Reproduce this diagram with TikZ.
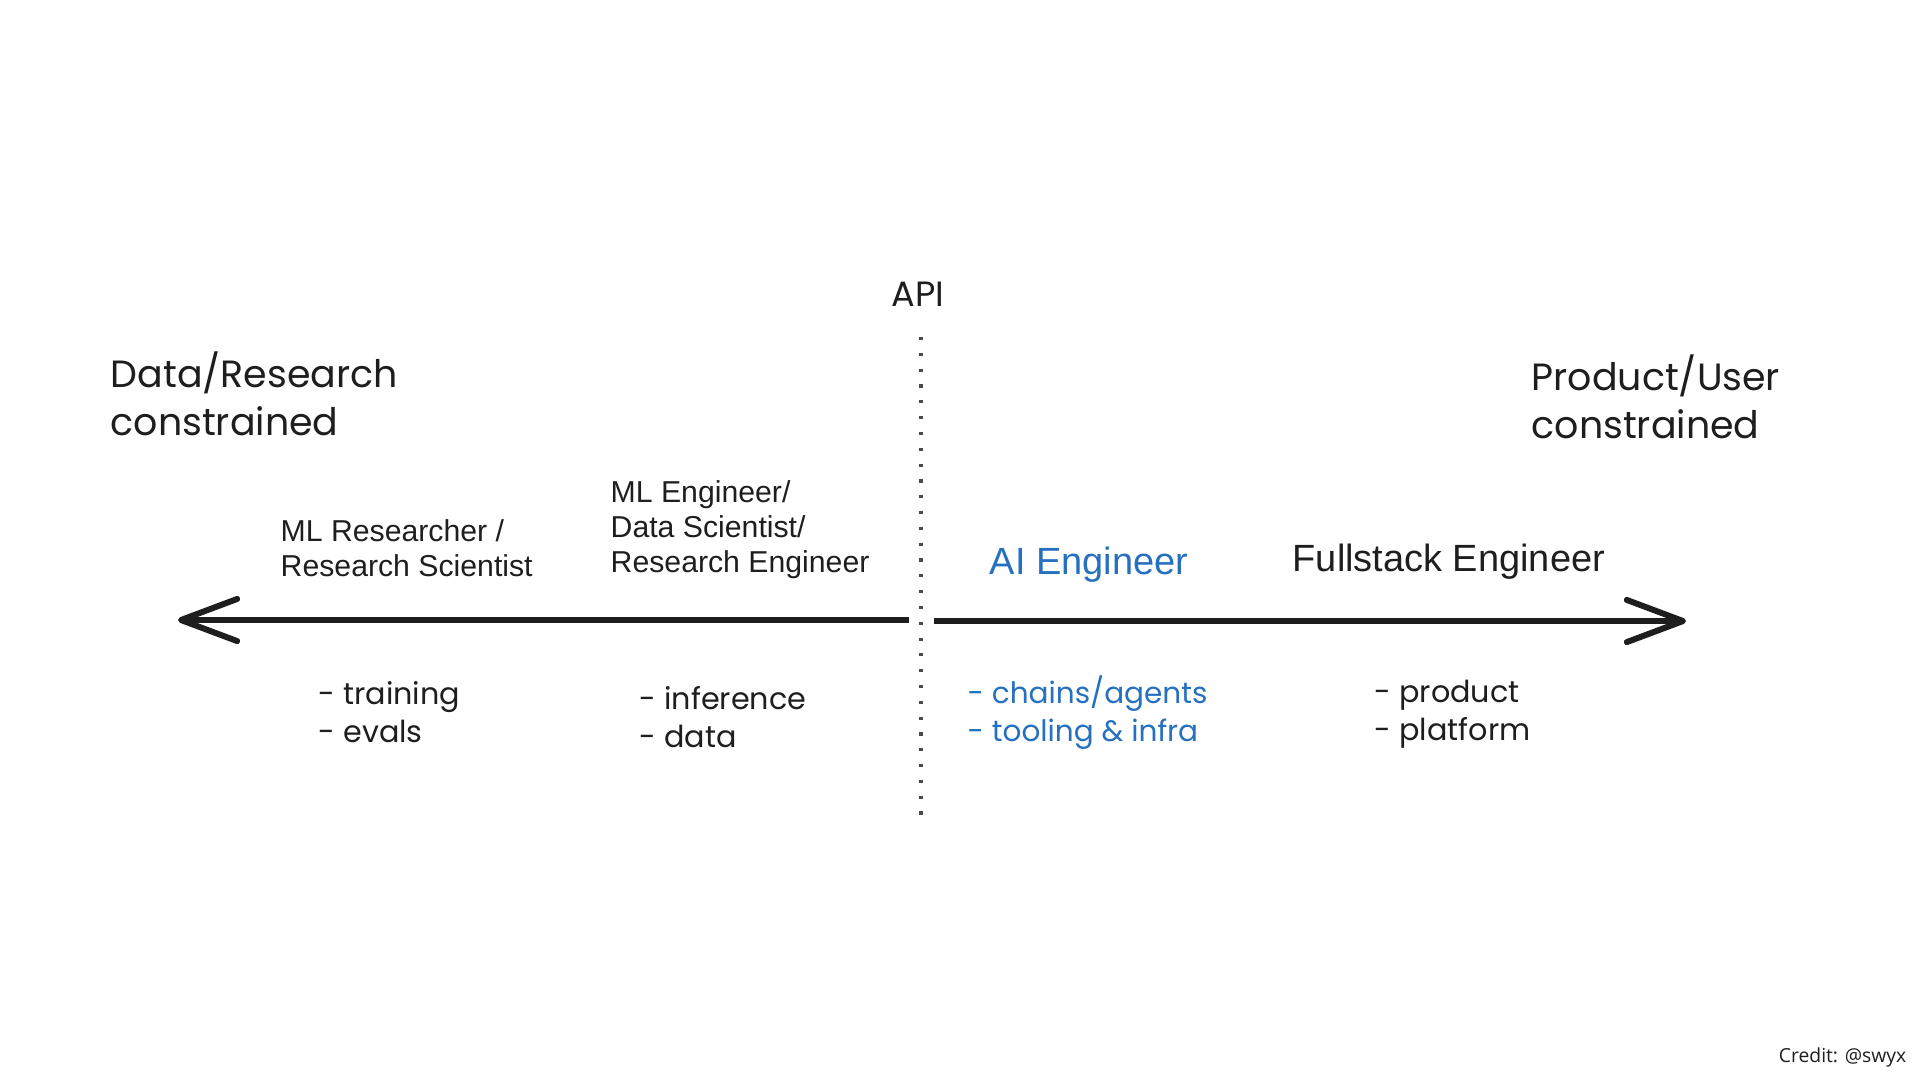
\documentclass[tikz,border=0pt]{standalone}
\usepackage{fontspec}
\setmainfont{Liberation Sans}
\newfontfamily\handfont{Poppins}
\newfontfamily\creditfont{Open Sans}
\usepackage{xcolor}
\usetikzlibrary{arrows.meta, positioning}
\definecolor{aiblue}{RGB}{38,112,192}
\definecolor{ink}{RGB}{30,30,30}

\begin{document}
\begin{tikzpicture}[x=0.1mm, y=-0.1mm,
    hand/.style={font=\handfont\fontsize{8.6}{10.8}\selectfont, text=ink, align=left, inner sep=0pt, anchor=west},
    head/.style={hand, font=\handfont\fontsize{10.8}{13.7}\selectfont},
    role/.style={font=\fontsize{8.6}{10}\selectfont, text=ink, align=left, inner sep=0pt, anchor=west},
    bigrole/.style={role, font=\fontsize{10.8}{13}\selectfont},
    axis/.style={line width=1.7pt, draw=ink, -{Straight Barb[length=16pt, width=12pt, round]}}]
    \useasboundingbox (0,0) rectangle (1920,1080);

    % Ligne API
    \node[hand, anchor=center, font=\handfont\fontsize{10}{12}\selectfont] (api) at (918,294) {API};
    \coordinate (apitop) at (921,337);
    \coordinate (apibot) at (921,822);
    \draw[ink!80, line width=0.9pt, dash pattern=on 0.9pt off 3.6pt] (apitop) -- (apibot);

    % Axe
    \coordinate (midL) at (909,620);
    \coordinate (midR) at (934,621);
    \coordinate (endL) at (178,620);
    \coordinate (endR) at (1686,621);
    \draw[axis] (midL) -- (endL);
    \draw[axis] (midR) -- (endR);

    % Extremites
    \node[head] (dataside) at (110,394) {Data/Research\\constrained};
    \node[head] (userside) at (1531,397) {Product/User\\constrained};

    % Roles
    \node[role] (mlres) at (280,548) {ML Researcher /\\Research Scientist};
    \node[role] (mleng) at (610,530) {ML Engineer/\\Data Scientist/\\Research Engineer};
    \node[bigrole, text=aiblue] (aieng) at (989,565) {AI Engineer};
    \node[bigrole] (fullstack) at (1292,562) {Fullstack Engineer};

    % Taches
    \node[hand] (mlrestasks) at (318,712) {- training\\- evals};
    \node[hand] (mlengtasks) at (639,717) {- inference\\- data};
    \node[hand, text=aiblue, font=\handfont\fontsize{8.4}{10.8}\selectfont] (aitasks) at (967,713) {- chains/agents\\- tooling \& infra};
    \node[hand] (fulltasks) at (1374,714) {- product\\- platform};

    % Credit
    \node[font=\creditfont\fontsize{5.5}{6}\selectfont, text=ink, anchor=east, inner sep=0pt] (credit) at (1907,1057) {Credit: @swyx};

\end{tikzpicture}
\end{document}
